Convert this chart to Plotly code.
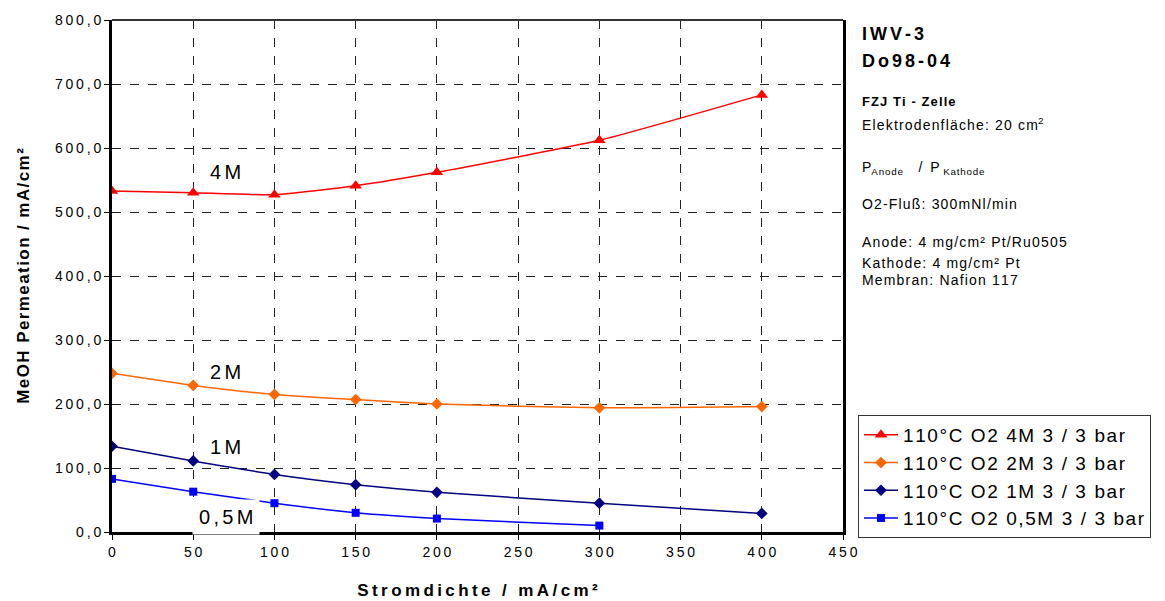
import plotly.graph_objects as go

x_4m = [0, 50, 100, 150, 200, 300, 400]
y_4m = [533, 530, 527, 541, 562, 612, 683]
x_2m = [0, 50, 100, 150, 200, 300, 400]
y_2m = [248, 229, 215, 207, 200, 194, 196]
x_1m = [0, 50, 100, 150, 200, 300, 400]
y_1m = [134, 111, 90, 74, 62, 45, 29]
x_05m = [0, 50, 100, 150, 200, 300]
y_05m = [83, 63, 45, 30, 21, 10]

names = ["110°C O2 4M 3 / 3 bar", "110°C O2 2M 3 / 3 bar",
         "110°C O2 1M 3 / 3 bar", "110°C O2 0,5M 3 / 3 bar"]
x_ticks = [0, 50, 100, 150, 200, 250, 300, 350, 400, 450]
y_ticks = [0, 100, 200, 300, 400, 500, 600, 700, 800]
y_tick_text = ["0,0", "100,0", "200,0", "300,0", "400,0", "500,0", "600,0", "700,0", "800,0"]

FONT = "Liberation Sans, Arial, sans-serif"
HAIR = "\u200a"
THIN = "\u2009"
SIX = "\u2006"


def sp(s, ch=HAIR):
    return ch.join(s)


fig = go.Figure()
series = [
    (x_4m, y_4m, "#FF0000", "triangle-up", 11),
    (x_2m, y_2m, "#FF6600", "diamond", 9),
    (x_1m, y_1m, "#000080", "diamond", 9),
    (x_05m, y_05m, "#0000FF", "square", 8),
]
for (xs, ys, col, sym, sz), nm in zip(series, names):
    fig.add_trace(go.Scatter(
        x=xs, y=ys, name=sp(nm, HAIR), mode="lines+markers",
        line=dict(color=col, width=1.5, shape="spline", smoothing=0.5),
        marker=dict(symbol=sym, size=sz, color=col),
    ))

# curve labels
labels = [("4M", 70, 562, 3), ("2M", 70, 250, 3), ("1M", 70, 133, 3), ("0,5M", 70, 23, 6)]
for t, xv, yv, pad in labels:
    fig.add_annotation(x=xv, y=yv, text=sp(t, SIX), showarrow=False,
                       font=dict(family=FONT, size=20, color="black"),
                       bgcolor="white", borderpad=pad)

# right side info text
info = [
    ("<b>" + sp("IWV-3", SIX) + "</b>", 0.972, 18),
    ("<b>" + sp("Do98-04", SIX) + "</b>", 0.919, 18),
    ("<b>" + sp("FZJ Ti - Zelle") + "</b>", 0.841, 13),
    (sp("Elektrodenfläche: 20 cm") + "<sup>2</sup>", 0.797, 14),
    ("P<sub>" + sp("Anode") + "</sub>    /  P <sub>" + sp("Kathode") + "</sub>", 0.711, 14),
    (sp("O2-Fluß: 300mNl/min"), 0.640, 14),
    (sp("Anode: 4 mg/cm² Pt/Ru0505"), 0.566, 14),
    (sp("Kathode: 4 mg/cm² Pt"), 0.525, 14),
    (sp("Membran: Nafion 117"), 0.492, 14),
]
for t, yv, fs in info:
    fig.add_annotation(xref="paper", yref="paper", x=1.0228, y=yv, text=t,
                       showarrow=False, xanchor="left", yanchor="middle",
                       font=dict(family=FONT, size=fs, color="black"), align="left")

# thinner top border
fig.add_shape(type="line", xref="paper", yref="paper", x0=0, x1=1, y0=1, y1=1,
              line=dict(color="#333333", width=2))

fig.update_layout(
    width=1165, height=601,
    margin=dict(l=112, r=322, t=20, b=69),
    paper_bgcolor="white", plot_bgcolor="white",
    font=dict(family=FONT, color="black"),
    showlegend=True,
    legend=dict(x=1.0205, y=0.2285, xanchor="left", yanchor="top",
                bordercolor="#333333", borderwidth=1, bgcolor="white",
                font=dict(family=FONT, size=19, color="black"),
                itemwidth=34, tracegroupgap=0),
    xaxis=dict(range=[0, 450], tickvals=x_ticks, ticktext=[sp(str(v), THIN) for v in x_ticks],
               showgrid=True, gridcolor="#222222", griddash="dash", gridwidth=1,
               showline=True, linecolor="black", linewidth=3,
               ticks="outside", ticklen=5, tickcolor="black", automargin=False,
               tickfont=dict(family=FONT, size=14), zeroline=False,
               title=dict(text="<b>" + sp("Stromdichte / mA/cm²", THIN) + "</b>",
                          font=dict(family=FONT, size=17), standoff=26)),
    yaxis=dict(range=[0, 800], tickvals=y_ticks, ticktext=[sp(t, THIN) for t in y_tick_text],
               showgrid=True, gridcolor="#222222", griddash="dash", gridwidth=1,
               showline=True, linecolor="black", linewidth=3, mirror=True,
               ticks="outside", ticklen=5, tickcolor="black", automargin=False,
               tickfont=dict(family=FONT, size=14), zeroline=False,
               title=dict(text="<b>" + sp("MeOH Permeation / mA/cm²", HAIR) + "</b>",
                          font=dict(family=FONT, size=17), standoff=22)),
)

fig.write_html("out.html")
